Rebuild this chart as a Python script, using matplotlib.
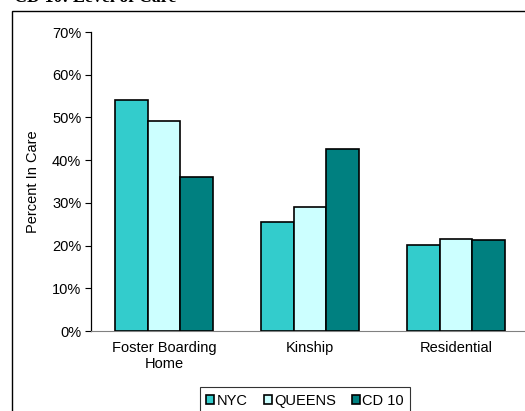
import matplotlib
matplotlib.use("Agg")
import matplotlib.pyplot as plt
import numpy as np
from matplotlib.patches import Rectangle
from matplotlib.ticker import PercentFormatter

categories = ["Foster Boarding\nHome", "Kinship", "Residential"]
series_names = ["NYC", "QUEENS", "CD 10"]
nyc = [54.0, 25.5, 20.2]
queens = [49.2, 29.0, 21.5]
cd10 = [36.0, 42.5, 21.2]
colors = ["#33CCCC", "#CCFFFF", "#008080"]
yticks = [0, 10, 20, 30, 40, 50, 60, 70]

plt.rcParams['font.family'] = ['Liberation Sans', 'DejaVu Sans']
FS = 10.5

W, H = 525, 411
fig = plt.figure(figsize=(W/100, H/100), dpi=100)

# outer chart frame
fig.patches.append(Rectangle((12/W, -0.1), 1.2, 1 - 11/H + 0.1, transform=fig.transFigure,
                             fill=False, edgecolor="black", linewidth=1.0))
# partly visible title (cut off at top, as in the reference)
fig.text(14/W, 1 - 2/H, "CD 10: Level of Care", fontsize=13, fontweight='bold',
         family=['Liberation Serif', 'DejaVu Serif'], va='baseline', ha='left')

ax = fig.add_axes([91/W, 1 - 331/H, 438/W, (331-32)/H])
x = np.arange(len(categories))
bw = 0.222
for i, (vals, name, c) in enumerate(zip([nyc, queens, cd10], series_names, colors)):
    ax.bar(x + (i-1)*bw, vals, bw, color=c, edgecolor="black", linewidth=1.2, label=name, zorder=3)

ax.set_xlim(-0.5, 2.5)
ax.set_ylim(0, 70)
ax.set_yticks(yticks)
ax.yaxis.set_major_formatter(PercentFormatter(decimals=0))
ax.set_xticks(x)
ax.set_xticklabels(categories, fontsize=FS, linespacing=1.25)
ax.tick_params(axis='x', length=0, pad=7)
ax.tick_params(axis='y', length=4, width=0.8, labelsize=FS, pad=3, direction='out')
ax.spines['top'].set_visible(False)
ax.spines['right'].set_visible(False)
ax.spines['bottom'].set_color('#808080')
ax.spines['left'].set_linewidth(0.9)
ax.set_ylabel("Percent In Care", fontsize=FS, labelpad=9)

leg = fig.legend(loc='center', bbox_to_anchor=(305/W, 1 - 401/H), ncol=3, fontsize=FS,
                 frameon=True, fancybox=False, edgecolor='black', handlelength=0.55, handleheight=0.55,
                 handletextpad=0.15, columnspacing=1.1, borderpad=0.45)
leg.get_frame().set_linewidth(0.8)

fig.savefig("out.png", dpi=100)
